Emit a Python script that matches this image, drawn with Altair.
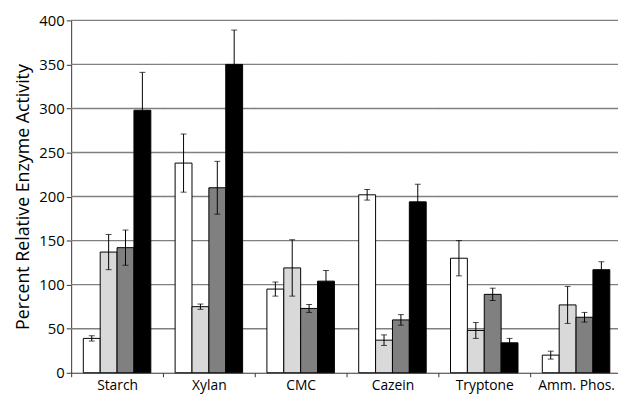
import altair as alt
import pandas as pd

categories = ["Starch", "Xylan", "CMC", "Cazein", "Tryptone", "Amm. Phos."]
series = ["S1", "S2", "S3", "S4"]
series_colors = ["#ffffff", "#d9d9d9", "#808080", "#000000"]
y_ticks = [0, 50, 100, 150, 200, 250, 300, 350, 400]

values = {
    "S1": [39, 238, 95, 202, 130, 20],
    "S2": [137, 75, 119, 37, 48, 77],
    "S3": [142, 210, 73, 60, 89, 63],
    "S4": [298, 350, 104, 194, 34, 117],
}
errors = {
    "S1": [3, 33, 8, 6, 20, 4.5],
    "S2": [20, 3, 32, 6, 9, 21],
    "S3": [20, 30, 4.5, 6, 7, 5.5],
    "S4": [43, 39, 12, 20, 5, 9],
}

rows = []
for s in series:
    for i, c in enumerate(categories):
        v = values[s][i]
        e = errors[s][i]
        rows.append({"cat": c, "series": s, "value": v, "lo": v - e, "hi": v + e})
df = pd.DataFrame(rows)
grid_df = pd.DataFrame(
    [{"cat": c, "g": t} for c in categories for t in y_ticks if t > 0]
)

font = "Open Sans"
ytitle = "Percent Relative Enzyme Activity"
PLOT_W = 558
STEP = PLOT_W / len(categories)

x = alt.X(
    "cat:N",
    sort=categories,
    title=None,
    scale=alt.Scale(range=[0, PLOT_W], paddingInner=0, paddingOuter=0),
    axis=alt.Axis(
        labelAngle=0,
        tickBand="extent",
        ticks=True,
        tickSize=4,
        tickColor="#333333",
        domainColor="#333333",
        labelFont=font,
        labelFontSize=14,
        labelColor="#000000",
        labelPadding=2,
        grid=False,
    ),
)
xoff = alt.XOffset("series:N", sort=series,
                   scale=alt.Scale(paddingInner=0, paddingOuter=0.72))

y_scale = alt.Scale(domain=[0, 400], nice=False)
y_axis = alt.Axis(
    values=y_ticks,
    grid=False,
    tickSize=5,
    tickColor="#333333",
    domainColor="#333333",
    labelFont=font,
    labelFontSize=15,
    labelColor="#000000",
    labelPadding=2,
    titleFont=font,
    titleFontSize=18,
    titleFontWeight="normal",
    titleColor="#000000",
    titlePadding=6,
)

grid = alt.Chart(grid_df).mark_tick(
    color="#808080", thickness=1.4, size=STEP + 0.5, orient="horizontal", opacity=1
).encode(
    x=x,
    y=alt.Y("g:Q", scale=y_scale, title=ytitle, axis=y_axis),
)

bars = alt.Chart(df).mark_bar(stroke="#000000", strokeWidth=1).encode(
    x=x,
    xOffset=xoff,
    y=alt.Y("value:Q", scale=y_scale, title=ytitle, axis=y_axis),
    fill=alt.Fill("series:N", sort=series,
                  scale=alt.Scale(domain=series, range=series_colors), legend=None),
)

rules = alt.Chart(df).mark_rule(color="#000000", strokeWidth=1).encode(
    x=x,
    xOffset=xoff,
    y=alt.Y("lo:Q", scale=y_scale, title=ytitle, axis=y_axis),
    y2="hi:Q",
)

caps_hi = alt.Chart(df).mark_tick(color="#000000", thickness=1, size=6, orient="horizontal").encode(
    x=x, xOffset=xoff, y=alt.Y("hi:Q", scale=y_scale, title=ytitle, axis=y_axis)
)
caps_lo = alt.Chart(df).mark_tick(color="#000000", thickness=1, size=6, orient="horizontal").encode(
    x=x, xOffset=xoff, y=alt.Y("lo:Q", scale=y_scale, title=ytitle, axis=y_axis)
)

chart = alt.layer(grid, bars, rules, caps_hi, caps_lo).properties(
    width=554,
    height=357,
    autosize=alt.AutoSizeParams(type="none"),
    padding={"left": 64, "top": 10, "right": 0, "bottom": 20},
).configure_view(stroke=None).configure_axis(domainWidth=1)

chart.save("out.html", embed_options={"renderer": "svg", "actions": False})
